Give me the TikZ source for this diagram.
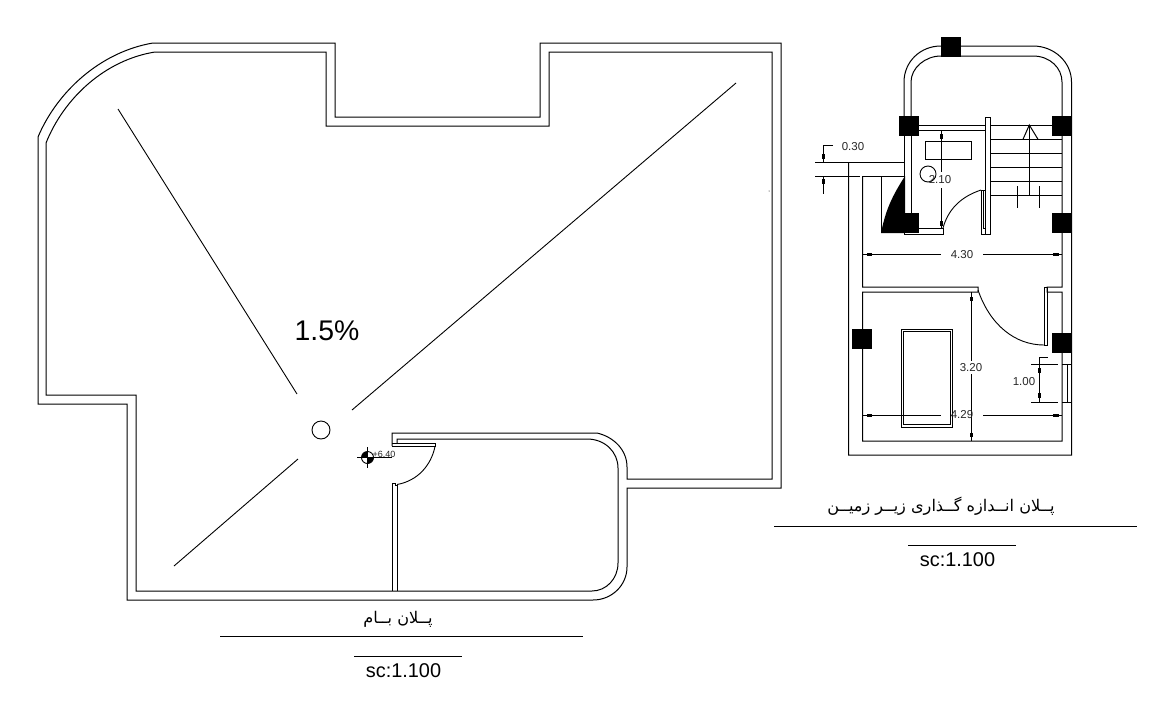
\documentclass[tikz,border=0pt]{standalone}
\usepackage{fontspec}
\setmainfont{Liberation Sans}
\newfontfamily\farsifont[Script=Arabic]{DejaVu Sans}
\TeXXeTstate=1
\tikzset{
    wall/.style={line width=1pt},
    dimline/.style={line width=0.9pt},
    dimtick/.style={line width=3pt},
    dimtext/.style={text=black!85,font=\fontsize{11.5}{12}\selectfont,inner sep=0pt},
    sctext/.style={font=\fontsize{19.9}{20}\selectfont,inner sep=0pt},
    titletext/.style={font=\farsifont\fontsize{16.1}{18}\selectfont,inner sep=0pt}
}
\begin{document}
\begin{tikzpicture}[x=1pt,y=-1pt]
    \useasboundingbox (0,0) rectangle (1166,707);
    % roof plan
    \draw [wall] (392,446) -- (392,433) -- (597,433) .. controls (614,437) and (627,450) .. (627,467) -- (627,479) -- (772,479) -- (772,52) -- (549,52) -- (549,126) -- (326,126) -- (326,52) -- (155,52) .. controls (105,60) and (64,98) .. (46,143) -- (46,395) -- (136,395) -- (136,591) -- (592,591) .. controls (606,591) and (618,579) .. (618,563) -- (618,468) .. controls (618,452) and (605,439) .. (587,439) -- (397,439) -- (397,443);
    \draw [wall] (392,483) -- (392,591) (397,485) -- (397,591);
    \draw [wall] (153,43) -- (335,43) -- (335,117) -- (540,117) -- (540,43) -- (781,43) -- (781,488) -- (627,488) -- (627,567) .. controls (627,585) and (612,600) .. (593,600) -- (127,600) -- (127,404) -- (38,404) -- (38,137) .. controls (57,92) and (100,52) .. (153,43);
    % door
    \draw [wall] (392,443) -- (435,443) -- (435,446.5) -- (392,446.5);
    \draw [wall] (392,483) -- (395,483) -- (395,485) -- (397,485);
    \draw [dimline] (435,446.5) .. controls (431,466) and (417,481) .. (397,484.5);
    % slope lines
    \draw [dimline] (118,109) -- (297,394);
    \draw [dimline] (736,83) -- (352,410);
    \draw [dimline] (298,459) -- (174,566);
    \draw [dimline] (321,430) circle (9);
    \fill (769,191) circle (0.5);
    \node [font=\fontsize{28.4}{29}\selectfont,inner sep=0pt] (slope) at (327,331) {1.5\%};
    % level mark
    \draw [dimline] (357,457.5) -- (392,457.5) (367.5,447) -- (367.5,468);
    \draw [dimline] (367.5,457.5) circle (6);
    \fill (367.5,457.5) -- (361.5,457.5) arc (180:270:6) -- cycle;
    \fill (367.5,457.5) -- (373.5,457.5) arc (0:90:6) -- cycle;
    \node [font=\fontsize{9}{9}\selectfont,text=black!85,inner sep=0pt] (level) at (384,454) {+6.40};
    % roof plan title
    \node [titletext] (rooftitle) at (398,619) {\beginR پــلان بــام\endR};
    \draw [dimline] (220,636) -- (583,636);
    \draw [dimline] (354,656) -- (462,656);
    \node [sctext] (roofscale) at (403.5,671) {sc:1.100};
    % basement plan, columns
    \foreach \x/\y in {941/37,899/116,1052/116,899/213,1052/213,852/329,1052/333}
        \fill (\x,\y) rectangle +(19.5,19.5);
    \fill (881,233) .. controls (886,208) and (893,195) .. (905,176) -- (905,213) -- (905,233) -- cycle;
    % arch
    \draw [wall] (904,116) -- (904,82) .. controls (904,62) and (920,46) .. (941,46);
    \draw [wall] (911,116) -- (911,82) .. controls (911,68) and (925,56) .. (941,56);
    \draw [wall] (960,46) -- (1033,46) .. controls (1054,46) and (1071.5,62) .. (1071.5,82) -- (1071.5,455) -- (848.5,455) -- (848.5,162);
    \draw [wall] (960,56) -- (1033,56) .. controls (1050,56) and (1062,68) .. (1062,82) -- (1062,287) -- (1047,287) -- (1047,292) -- (1062,292) -- (1062,441) -- (862.5,441) -- (862.5,292) -- (978,292) -- (978,287) -- (862.5,287) -- (862.5,176);
    % stair room
    \draw [wall] (904,135) -- (904,234.5) -- (943,234.5) -- (943,228) -- (918,228);
    \draw [wall] (911,135) -- (911,213);
    \draw [wall] (918,125) -- (985,125) (918,130) -- (985,130);
    \draw [wall] (985,117) rectangle (990.5,234);
    \draw [wall] (985,190) -- (981,190) -- (981,234) -- (985,234);
    \draw [wall] (983,190) -- (983,228) -- (985,228);
    \draw [dimline] (981,190) .. controls (960,197) and (948,210) .. (943,228);
    \draw [wall] (925,141) rectangle (971,159);
    \draw [dimline] (928,174) circle (8);
    \draw [wall] (815,162) -- (904,162);
    \draw [wall] (815,176) -- (860,176) (862.5,176) -- (904,176);
    \draw [wall] (881,176) -- (881,233);
    % stairs
    \draw [wall] (990.5,125) -- (1052,125);
    \foreach \y in {139.3,153.3,167.3,181.3,195.3}
        \draw [wall] (990.5,\y) -- (1062,\y);
    \draw [wall] (1029.3,195.3) -- (1029.3,125);
    \draw [wall] (1023,139.3) -- (1029.3,125) -- (1038,139.3);
    \draw [wall] (1017,186) -- (1017,208) (1039,186) -- (1039,208);
    % lower room
    \draw [wall] (1044.3,345) -- (1044.3,287.5) -- (1047,287.5) -- (1047,345) -- cycle;
    \draw [dimline] (978,290) .. controls (990,325) and (1015,345) .. (1044,345);
    \draw [wall] (901,329) rectangle (952,427);
    \draw [wall] (903,331) rectangle (950,424);
    \draw [wall] (1062,364) -- (1071.5,364) (1062,402) -- (1071.5,402) (1067,364) -- (1067,402);
    % dimensions
    \draw [dimline] (833,145) -- (823,145) -- (823,162);
    \draw [dimline] (823,176) -- (823,194);
    \draw [dimtick] (823,154) -- (823,159) (823,179) -- (823,184);
    \node [dimtext] (dimA) at (853,147) {0.30};
    \draw [dimline] (941,131) -- (941,172) (941,188) -- (941,229);
    \draw [dimtick] (941,134) -- (941,139) (941,221) -- (941,226);
    \node [dimtext] (dimB) at (940,180) {2.10};
    \draw [dimline] (863,254) -- (941,254) (983,254) -- (1062,254);
    \draw [dimtick] (867,254) -- (872,254) (1053,254) -- (1059,254);
    \node [dimtext] (dimC) at (962,255) {4.30};
    \draw [dimline] (971,292) -- (971,361) (971,374) -- (971,441);
    \draw [dimtick] (971,297) -- (971,301) (971,433) -- (971,437);
    \node [dimtext] (dimD) at (971,368) {3.20};
    \draw [dimline] (862.5,415) -- (941,415) (983,415) -- (1062,415);
    \draw [dimtick] (867,415) -- (872,415) (1053,415) -- (1059,415);
    \node [dimtext] (dimE) at (962,415) {4.29};
    \draw [dimline] (1047.5,357) -- (1039,357) -- (1039,402);
    \draw [dimline] (1031,364) -- (1058,364) (1031,402) -- (1058,402);
    \draw [dimtick] (1039,368) -- (1039,373) (1039,393) -- (1039,398);
    \node [dimtext] (dimF) at (1024,382) {1.00};
    % basement plan title
    \node [titletext] (basetitle) at (941,506) {\beginR پــلان انــدازه گــذاری زیــر زمیــن\endR};
    \draw [dimline] (774,526) -- (1137,526);
    \draw [dimline] (908,545) -- (1016,545);
    \node [sctext] (basescale) at (957.5,560) {sc:1.100};
\end{tikzpicture}
\end{document}
